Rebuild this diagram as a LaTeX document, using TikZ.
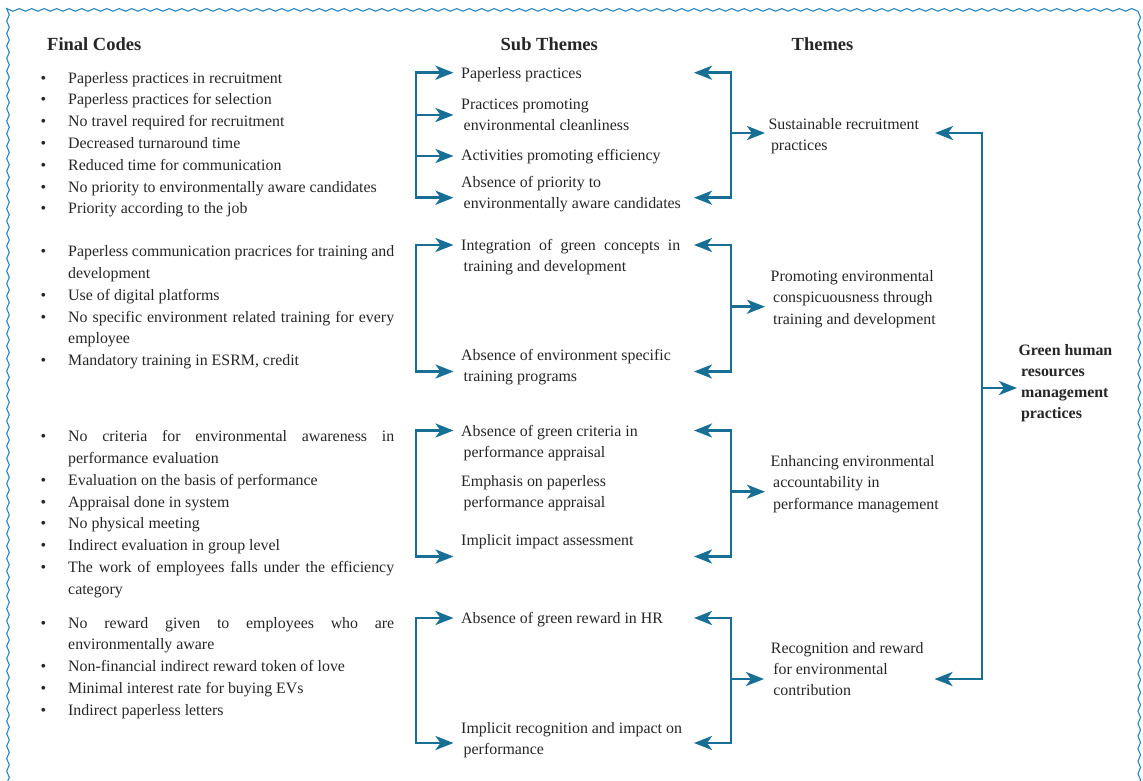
\documentclass[tikz,border=0pt]{standalone}
\usepackage{fontspec}
\setmainfont{Liberation Serif}
\usetikzlibrary{arrows.meta,decorations.pathmorphing}
\definecolor{arrowc}{RGB}{24,111,150}
\definecolor{bordc}{RGB}{40,135,190}
\definecolor{txtc}{RGB}{38,38,38}
\newcommand\bodysize{\fontsize{15.9}{21.2}\selectfont}
\newcommand\codesize{\fontsize{15.9}{21.8}\selectfont}
\newcommand\headsize{\fontsize{18.5}{22}\selectfont\bfseries}
\newcommand\bul{\leavevmode\llap{\textbullet\hspace{22pt}}}
\newcommand\ind{\leavevmode\hspace*{2.5pt}}
\newcommand\full[2]{\makebox[#1][s]{#2}}
\begin{document}
\begin{tikzpicture}[x=1pt,y=-1pt,
  txt/.style={anchor=base west, inner sep=0pt, text width=260pt, align=left, font=\bodysize, text=txtc,
    execute at begin node={\spaceskip=0pt\xspaceskip=0pt\relax}},
  code/.style={txt, text width=326pt, font=\codesize},
  head/.style={anchor=base west, inner sep=0pt, font=\headsize, text=txtc},
  link/.style={draw=arrowc, line width=2.9pt, line join=miter},
  >={Stealth[length=18pt,width=14pt,inset=5pt]}]
\useasboundingbox (0,0) rectangle (1143,780);
% wavy frame
\begin{scope}
\clip (0,0) rectangle (1143,780);
\draw[bordc, line width=1.1pt, decorate, decoration={snake,amplitude=1.3pt,segment length=12.5pt}]
  (8,800) -- (8,12) -- (1138,12) -- (1138,800);
\end{scope}
% headers
\node[head] (hfc) at (47,50.5) {Final Codes};
\node[head] (hst) at (500.5,50.5) {Sub Themes};
\node[head] (hth) at (791.5,50.5) {Themes};
% final codes
\node[code] (c1) at (68,83) {\bul Paperless practices in recruitment\\
 \bul Paperless practices for selection\\
 \bul No travel required for recruitment\\
 \bul Decreased turnaround time\\
 \bul Reduced time for communication\\
 \bul No priority to environmentally aware candidates\\
 \bul Priority according to the job};
\node[code] (c2) at (68,256.7) {\bul\full{326pt}{Paperless communication pracrices for training and}\\
 development\\
 \bul Use of digital platforms\\
 \bul\full{326pt}{No specific environment related training for every}\\
 employee\\
 \bul Mandatory training in ESRM, credit};
\node[code] (c3) at (68,441.7) {\bul\full{326pt}{No criteria for environmental awareness in}\\
 performance evaluation\\
 \bul Evaluation on the basis of performance\\
 \bul Appraisal done in system\\
 \bul No physical meeting\\
 \bul Indirect evaluation in group level\\
 \bul\full{326pt}{The work of employees falls under the efficiency}\\
 category};
\node[code] (c4) at (68,628) {\bul\full{326pt}{No reward given to employees who are}\\
 environmentally aware\\
 \bul Non-financial indirect reward token of love\\
 \bul Minimal interest rate for buying EVs\\
 \bul Indirect paperless letters};
% sub themes
\node[txt] (s1) at (461,78) {Paperless practices};
\node[txt] (s2) at (461,109.3) {Practices promoting\\\ind environmental cleanliness};
\node[txt] (s3) at (461,160.7) {Activities promoting efficiency};
\node[txt] (s4) at (461,187.3) {Absence of priority to\\\ind environmentally aware candidates};
\node[txt] (s5) at (461,250.7) {\full{219pt}{Integration of green concepts in}\\\ind training and development};
\node[txt] (s6) at (461,360.5) {Absence of environment specific\\\ind training programs};
\node[txt] (s7) at (461,436.7) {Absence of green criteria in\\\ind performance appraisal};
\node[txt] (s8) at (461,486.7) {Emphasis on paperless\\\ind performance appraisal};
\node[txt] (s9) at (461,545) {Implicit impact assessment};
\node[txt] (s10) at (461,623.5) {Absence of green reward in HR};
\node[txt] (s11) at (461,733.3) {Implicit recognition and impact on\\\ind performance};
% themes
\node[txt] (t1) at (768.3,129.5) {Sustainable recruitment\\\ind practices};
\node[txt] (t2) at (770.5,281.7) {Promoting environmental\\\ind conspicuousness through\\\ind training and development};
\node[txt] (t3) at (770.5,466.7) {Enhancing environmental\\\ind accountability in\\\ind performance management};
\node[txt] (t4) at (770.7,653.3) {Recognition and reward\\\ind for environmental\\\ind contribution};
% main theme
\node[txt, font=\bodysize\bfseries] (gh) at (1018.3,355) {Green human\\\ind resources\\\ind management\\\ind practices};
% ---------- connectors ----------
% group 1
\coordinate (a1t) at (416,72.7);  \coordinate (a1b) at (416,197.7);
\coordinate (a1s1) at (453.5,72.7); \coordinate (a1s4) at (453.5,197.7);
\coordinate (a1m2) at (416,115);  \coordinate (a1s2) at (453.5,115);
\coordinate (a1m3) at (416,156);  \coordinate (a1s3) at (453.5,156);
\draw[link,<->] (a1s1) -- (a1t) -- (a1b) -- (a1s4);
\draw[link,->] (a1m2) -- (a1s2);
\draw[link,->] (a1m3) -- (a1s3);
\coordinate (b1t) at (731,72.7); \coordinate (b1b) at (731,197.7);
\coordinate (b1s1) at (694,72.7); \coordinate (b1s4) at (694,197.7);
\coordinate (b1m) at (731,133); \coordinate (b1th) at (765,133);
\draw[link,<->] (b1s1) -- (b1t) -- (b1b) -- (b1s4);
\draw[link,->] (b1m) -- (b1th);
% group 2
\coordinate (a2t) at (416,245);  \coordinate (a2b) at (416,371.5);
\coordinate (a2s1) at (453.5,245); \coordinate (a2s2) at (453.5,371.5);
\draw[link,<->] (a2s1) -- (a2t) -- (a2b) -- (a2s2);
\coordinate (b2t) at (731,245); \coordinate (b2b) at (731,371.5);
\coordinate (b2s1) at (694,245); \coordinate (b2s2) at (694,371.5);
\coordinate (b2m) at (731,306.7); \coordinate (b2th) at (765,306.7);
\draw[link,<->] (b2s1) -- (b2t) -- (b2b) -- (b2s2);
\draw[link,->] (b2m) -- (b2th);
% group 3
\coordinate (a3t) at (416,430.5);  \coordinate (a3b) at (416,556.5);
\coordinate (a3s1) at (453.5,430.5); \coordinate (a3s2) at (453.5,556.5);
\draw[link,<->] (a3s1) -- (a3t) -- (a3b) -- (a3s2);
\coordinate (b3t) at (731,430.5); \coordinate (b3b) at (731,556.5);
\coordinate (b3s1) at (694,430.5); \coordinate (b3s2) at (694,556.5);
\coordinate (b3m) at (731,491.7); \coordinate (b3th) at (765,491.7);
\draw[link,<->] (b3s1) -- (b3t) -- (b3b) -- (b3s2);
\draw[link,->] (b3m) -- (b3th);
% group 4
\coordinate (a4t) at (416,618);  \coordinate (a4b) at (416,743);
\coordinate (a4s1) at (453.5,618); \coordinate (a4s2) at (453.5,743);
\draw[link,<->] (a4s1) -- (a4t) -- (a4b) -- (a4s2);
\coordinate (b4t) at (731,618); \coordinate (b4b) at (731,743);
\coordinate (b4s1) at (694,618); \coordinate (b4s2) at (694,743);
\coordinate (b4m) at (731,679); \coordinate (b4th) at (764,679);
\draw[link,<->] (b4s1) -- (b4t) -- (b4b) -- (b4s2);
\draw[link,->] (b4m) -- (b4th);
% main bracket
\coordinate (ct) at (982,133); \coordinate (cb) at (982,679);
\coordinate (cs1) at (935,133); \coordinate (cs4) at (934.5,679);
\coordinate (cm) at (982,388); \coordinate (cgh) at (1017,388);
\draw[link,<->] (cs1) -- (ct) -- (cb) -- (cs4);
\draw[link,->] (cm) -- (cgh);
\end{tikzpicture}
\end{document}
